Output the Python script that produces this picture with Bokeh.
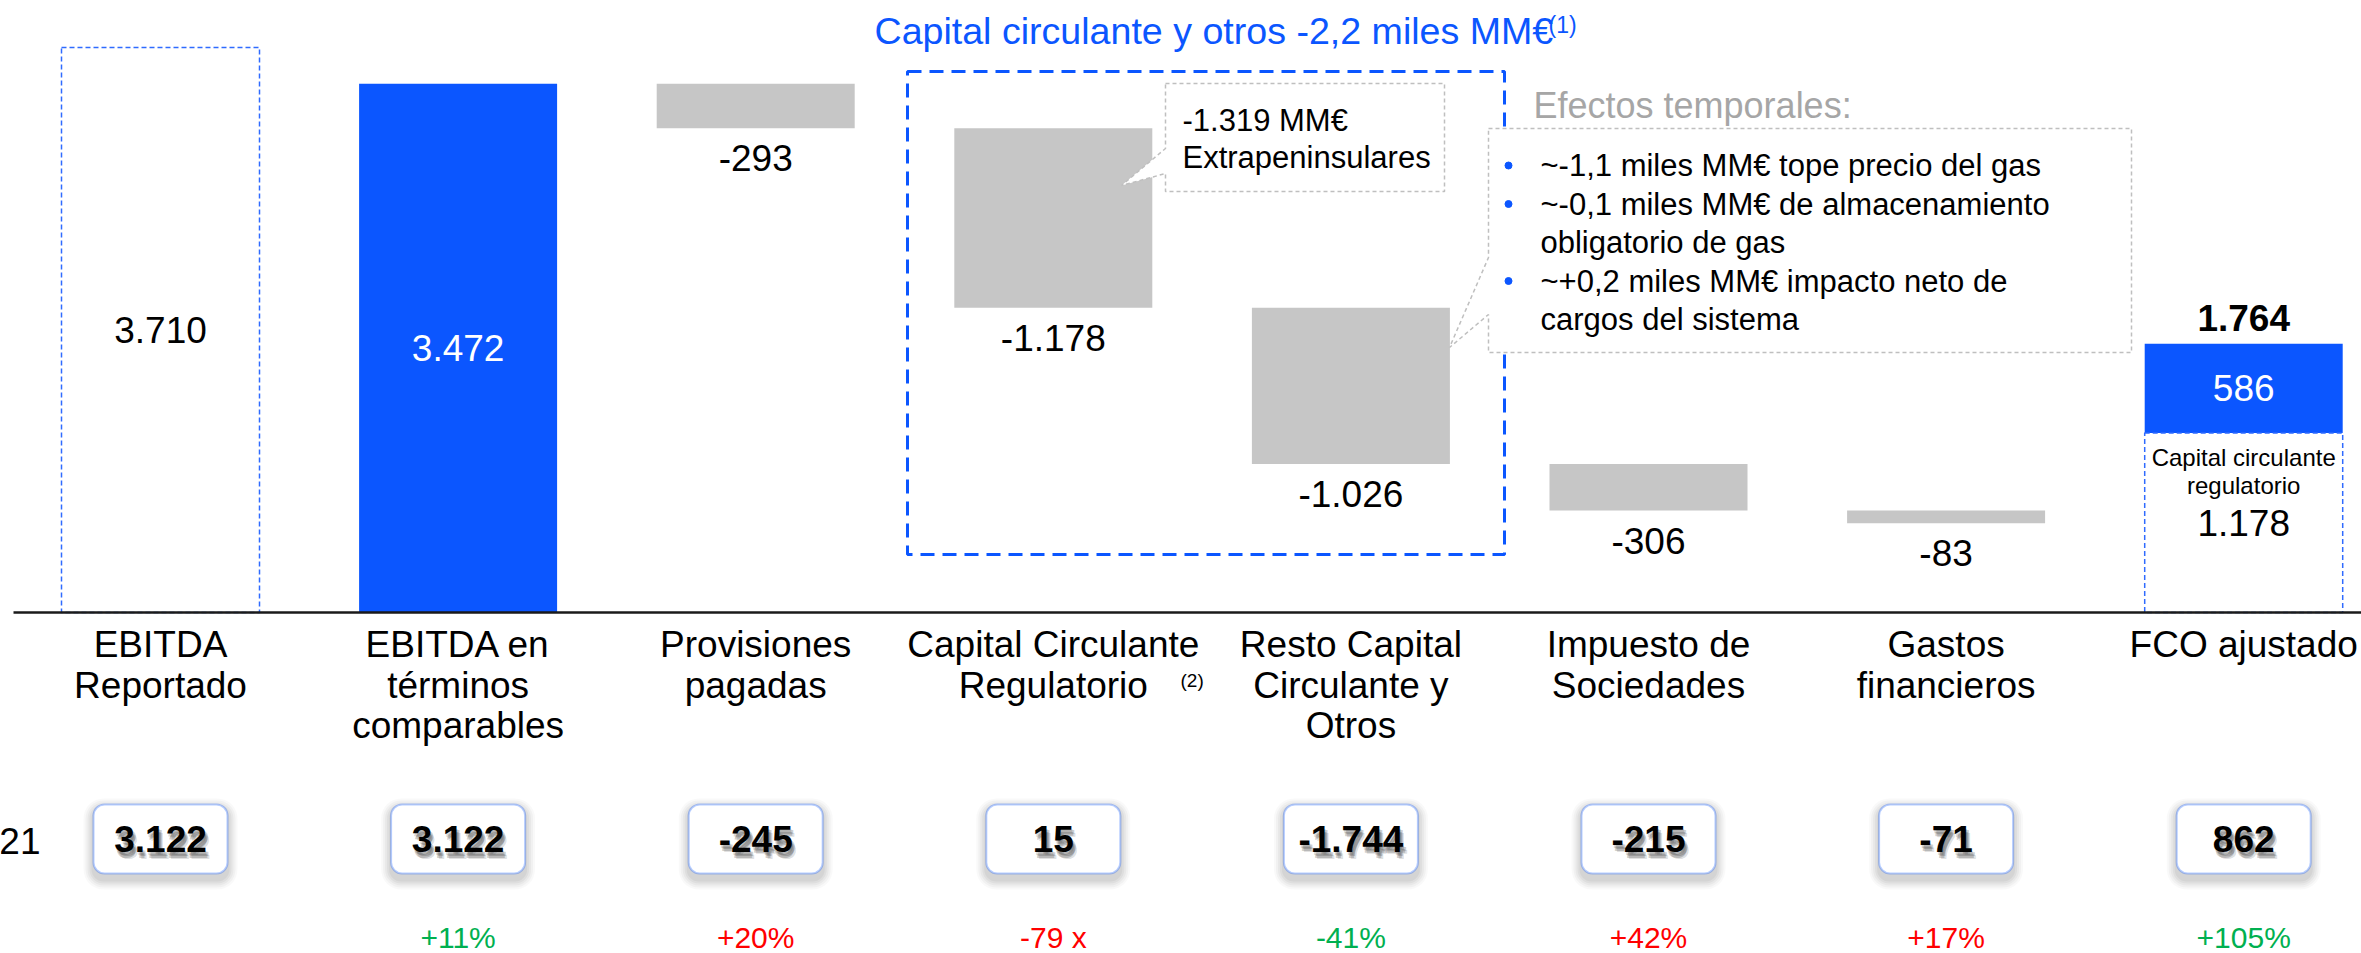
from bokeh.plotting import figure
from bokeh.models import Range1d, BoxAnnotation
from bokeh.core.properties import value
from bokeh.embed import file_html
from bokeh.resources import INLINE

# ---------------- data ----------------
categories = [
    "EBITDA\nReportado",
    "EBITDA en\ntérminos\ncomparables",
    "Provisiones\npagadas",
    "Capital Circulante\nRegulatorio",
    "Resto Capital\nCirculante y\nOtros",
    "Impuesto de\nSociedades",
    "Gastos\nfinancieros",
    "FCO ajustado",
]
ebitda_reported = 3710
ebitda_comparable = 3472
deltas = [-293, -1178, -1026, -306, -83]          # categories 2..6
regulatory_wc_memo = 1178                          # part of FCO ajustado
prior_year_label = "2021"
prior_year_values = [3122, 3122, -245, 15, -1744, -215, -71, 862]
variation_labels = ["", "+11%", "+20%", "-79 x", "-41%", "+42%", "+17%", "+105%"]
variation_favorable = [None, True, False, False, True, False, False, True]
group_title = "Capital circulante y otros -2,2 miles MM€"
group_title_note = "(1)"
category_note = "(2)"
category_note_index = 3
callout_1_lines = ["-1.319 MM€", "Extrapeninsulares"]
callout_2_title = "Efectos temporales:"
callout_2_lines = [
    "~-1,1 miles MM€ tope precio del gas",
    "~-0,1 miles MM€ de almacenamiento",
    "obligatorio de gas",
    "~+0,2 miles MM€ impacto neto de",
    "cargos del sistema",
]
callout_2_bullets = [True, True, False, True, False]
fco_memo_lines = ["Capital circulante", "regulatorio"]

# ---------------- styles / layout ----------------
FONT = "Liberation Sans"
BLUE = "#0B56FF"
DASH_BLUE = "#2F6BFF"
GRAY = "#C6C6C6"
GREEN = "#00B050"
RED = "#FF0000"

W, H = 2361, 953
PX_PER_CAT = 297.6
CAT0_PX = 160.0
BASE_PX = 612.0
PX_PER_UNIT = 0.15229
BAR_W = 198.0 / PX_PER_CAT

XS = -CAT0_PX / PX_PER_CAT
XE = XS + W / PX_PER_CAT
YE = BASE_PX / PX_PER_UNIT
YS = YE - H / PX_PER_UNIT


def xd(rx):  # page pixel -> data x
    return XS + rx / PX_PER_CAT


def yd(ry):  # page pixel -> data y
    return YE - ry / PX_PER_UNIT


def fmt(v):
    s = f"{abs(v):,}".replace(",", ".")
    return ("-" if v < 0 else "") + s


p = figure(width=W, height=H, x_range=Range1d(XS, XE), y_range=Range1d(YS, YE),
           output_backend="svg", toolbar_location=None, min_border=0,
           x_axis_location=None, y_axis_location=None, outline_line_color=None,
           background_fill_color="white", border_fill_color="white")
p.grid.visible = False


def txt(x, y, s, size, color="black", align="center", bold=False,
        xo=0, yo=0, alpha=1.0):
    p.text(x=[x], y=[y], text=[s], text_font=value(FONT),
           text_font_size=value(f"{size}px"), text_color=color, text_align=align,
           text_baseline="middle", text_font_style="bold" if bold else "normal",
           x_offset=xo, y_offset=yo, text_alpha=alpha)


# ---------------- waterfall geometry ----------------
n = len(categories)
fco = ebitda_comparable + sum(deltas)
fco_total = fco + regulatory_wc_memo
step_x, step_bottom, step_top = [], [], []
running = ebitda_comparable
for i, d in enumerate(deltas):
    step_x.append(i + 2)
    step_top.append(running)
    step_bottom.append(running + d)
    running += d

# group dashed box (Capital circulante y otros)
p.quad(left=xd(907), right=xd(1504), top=yd(71), bottom=yd(554), fill_color=None,
       line_color=BLUE, line_width=3, line_dash="14 8")

# bars
p.vbar(x=[0], bottom=0, top=ebitda_reported, width=BAR_W, fill_color=None,
       line_color=DASH_BLUE, line_width=1.5, line_dash="5 3")
p.vbar(x=[1], bottom=0, top=ebitda_comparable, width=BAR_W, fill_color=BLUE, line_color=None)
p.vbar(x=step_x, bottom=step_bottom, top=step_top, width=BAR_W, fill_color=GRAY, line_color=None)
p.vbar(x=[n - 1], bottom=regulatory_wc_memo, top=fco_total, width=BAR_W, fill_color=BLUE,
       line_color=None)
p.vbar(x=[n - 1], bottom=0, top=regulatory_wc_memo, width=BAR_W, fill_color=None,
       line_color=DASH_BLUE, line_width=1.5, line_dash="5 3")

# baseline
p.segment(x0=[xd(13)], y0=[0], x1=[XE], y1=[0], line_color="#1A1A1A", line_width=2.5)

# callouts
c1 = [(1165, 83), (1444, 83), (1444, 191), (1165, 191), (1165, 173), (1121, 185), (1165, 148)]
p.patch([xd(a) for a, b in c1], [yd(b) for a, b in c1], fill_color="white",
        line_color="#BFBFBF", line_width=1.5, line_dash="4 3")
c2 = [(1488, 128), (2131, 128), (2131, 352), (1488, 352), (1488, 314), (1449, 347), (1488, 257)]
p.patch([xd(a) for a, b in c2], [yd(b) for a, b in c2], fill_color="white",
        line_color="#BFBFBF", line_width=1.5, line_dash="4 3")

# ---------------- bar value labels ----------------
txt(0, ebitda_reported / 2, fmt(ebitda_reported), 37)
txt(1, ebitda_comparable / 2, fmt(ebitda_comparable), 37, color="white")
for x, b, d in zip(step_x, step_bottom, deltas):
    txt(x, b, fmt(d), 37, yo=30)
txt(n - 1, regulatory_wc_memo + fco / 2, fmt(fco), 37, color="white")
txt(n - 1, fco_total, fmt(fco_total), 37, bold=True, yo=-26)
for k, line in enumerate(fco_memo_lines):
    txt(n - 1, regulatory_wc_memo, line, 24, yo=24 + 28 * k)
txt(n - 1, regulatory_wc_memo / 2, fmt(regulatory_wc_memo), 37)

# ---------------- category labels ----------------
for i, c in enumerate(categories):
    for k, line in enumerate(c.split("\n")):
        txt(i, 0, line, 37, yo=32 + 40.5 * k)
txt(xd(1180), 0, category_note, 19, align="left", yo=68)

# ---------------- titles / callout texts ----------------
txt(xd(874), yd(30), group_title, 37.6, color=BLUE, align="left")
txt(xd(1548), yd(24), group_title_note, 23, color=BLUE, align="left")
for k, line in enumerate(callout_1_lines):
    txt(xd(1182), yd(120 + 37 * k), line, 31, align="left")
txt(xd(1533), yd(105), callout_2_title, 36, color="#A6A6A6", align="left")
bx, by = [], []
for k, (line, b) in enumerate(zip(callout_2_lines, callout_2_bullets)):
    ly = yd(165 + 38.5 * k)
    txt(xd(1540), ly, line, 31, align="left")
    if b:
        bx.append(xd(1508))
        by.append(ly)
p.scatter(bx, by, size=7, color=BLUE, marker="circle")

# ---------------- prior-year row ----------------
txt(xd(40), yd(840), prior_year_label, 37, align="right")
box_half = 67 / PX_PER_CAT
box_top, box_bottom = yd(804), yd(873)
for i, v in enumerate(prior_year_values):
    for e, a in [(10, 0.025), (8, 0.03), (6, 0.035), (4, 0.04), (2, 0.045)]:
        p.add_layout(BoxAnnotation(left=i - box_half - e / PX_PER_CAT,
                                   right=i + box_half + e / PX_PER_CAT,
                                   top=box_top + (e - 4) / PX_PER_UNIT,
                                   bottom=box_bottom - (6 + e) / PX_PER_UNIT,
                                   fill_color="black", fill_alpha=a, line_color=None,
                                   border_radius=10 + e, level="underlay"))
    p.add_layout(BoxAnnotation(left=i - box_half, right=i + box_half, top=box_top,
                               bottom=box_bottom, fill_color="white", fill_alpha=1,
                               line_color=BLUE, line_width=2, border_radius=11,
                               level="underlay"))
    ty = yd(838)
    for xo, yo, a in [(4, 7, 0.18), (2, 6, 0.25), (3, 4, 0.25), (1, 3, 0.2)]:
        txt(i, ty, fmt(v), 37, color="#404040", bold=True, xo=xo, yo=yo, alpha=a)
    txt(i, ty, fmt(v), 37, bold=True)

for i, (lab, fav) in enumerate(zip(variation_labels, variation_favorable)):
    if lab:
        txt(i, yd(937), lab, 30, color=GREEN if fav else RED)

with open("out.html", "w", encoding="utf-8") as f:
    f.write(file_html(p, INLINE))
